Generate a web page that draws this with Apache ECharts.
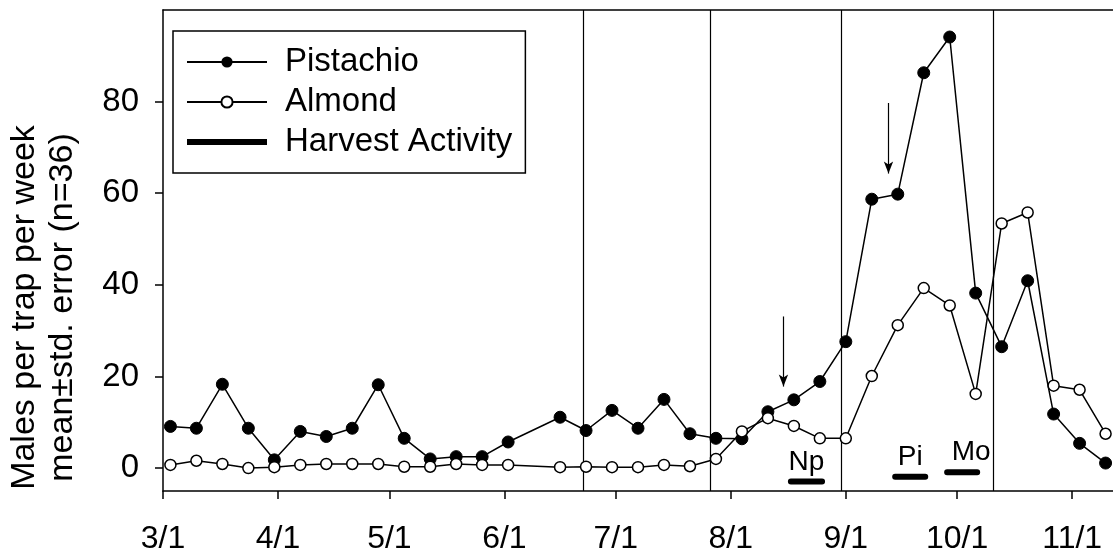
<!DOCTYPE html>
<html>
<head>
<meta charset="utf-8">
<script src="https://cdn.jsdelivr.net/npm/echarts@6/dist/echarts.min.js"></script>
<style>
  html, body { margin: 0; padding: 0; background: #fff; }
  #chart { width: 1113px; height: 550px; }
</style>
</head>
<body>
<div id="chart"></div>
<script>
// x values are days counted from 3/1
const days = [2, 9, 16, 23, 30, 37, 44, 51, 58, 65, 72, 79, 86, 93,
  107, 114, 121, 128, 135, 142, 149, 156, 163, 170, 177, 184, 191, 198, 205, 212, 219, 226, 233, 240, 247, 254];
const pistachio = [9.1, 8.7, 18.3, 8.7, 1.8, 8.0, 6.9, 8.7, 18.2, 6.5, 2.0, 2.5, 2.5, 5.7,
  11.1, 8.2, 12.6, 8.7, 15.0, 7.5, 6.5, 6.4, 12.3, 14.9, 18.9, 27.6, 58.7, 59.8, 86.3, 94.1, 38.2, 26.5, 40.9, 11.8, 5.4, 1.1];
const almond = [0.7, 1.6, 0.9, 0.0, 0.2, 0.7, 0.9, 0.9, 0.9, 0.3, 0.3, 0.9, 0.7, 0.7,
  0.2, 0.3, 0.2, 0.2, 0.7, 0.4, 2.0, 8.0, 10.9, 9.2, 6.5, 6.5, 20.1, 31.2, 39.3, 35.5, 16.2, 53.4, 55.8, 18.0, 17.1, 7.5];

const monthDays = [0, 31, 61, 92, 122, 153, 184, 214, 245];
const monthLabels = ['3/1', '4/1', '5/1', '6/1', '7/1', '8/1', '9/1', '10/1', '11/1'];
const yTicks = [0, 20, 40, 60, 80];

const boundaryDays = [113.3, 147.6, 182.7, 223.8];

const harvestNames = ['Np', 'Pi', 'Mo'];
const harvestStart = [169.2, 197.3, 211.3];
const harvestEnd = [177.6, 205.4, 219.4];
const harvestLevel = [-2.9, -1.9, -0.9];

const arrowDays = [167.2, 195.5];
const arrowTop = [33.1, 79.7];
const arrowBottom = [17.8, 64.3];

const font = "'Liberation Sans', Arial, sans-serif";

const chart = echarts.init(document.getElementById('chart'));

const toPairs = (vals) => days.map((d, i) => [d, vals[i]]);

// thick bar icon for the legend, padded top/bottom so it stays thin
const barIcon = 'path://M0,0L0.01,0L0.01,0.01Z M0,4L80,4L80,10L0,10Z M0,14L0.01,14L0.01,13.99Z';

const harvestSeries = harvestNames.map((nm, i) => ({
  name: 'Harvest Activity',
  type: 'line',
  symbol: 'none',
  z: 4,
  lineStyle: { color: '#000', width: 6, cap: 'round' },
  itemStyle: { color: '#000' },
  data: [
    [harvestStart[i], harvestLevel[i]],
    {
      value: [(harvestStart[i] + harvestEnd[i]) / 2, harvestLevel[i]],
      symbol: 'circle', symbolSize: 1,
      label: {
        show: true, position: 'top', distance: 5, formatter: nm,
        fontFamily: font, fontSize: 28, color: '#000',
        offset: nm === 'Mo' ? [9, 0] : [0, 0]
      }
    },
    [harvestEnd[i], harvestLevel[i]]
  ]
}));

const option = {
  animation: false,
  grid: { left: 163, right: 0, top: 10, bottom: 59, outerBoundsMode: 'none' },
  legend: {
    orient: 'vertical',
    left: 173, top: 31,
    padding: [14, 13, 14, 13],
    borderColor: '#000', borderWidth: 1.5,
    itemGap: 6, itemWidth: 80, itemHeight: 14,
    textStyle: { fontFamily: font, fontSize: 33, lineHeight: 34, color: '#000', padding: [0, 0, 0, 13] },
    data: ['Pistachio', 'Almond', { name: 'Harvest Activity', icon: barIcon, itemStyle: { color: '#000' } }]
  },
  xAxis: [{
    type: 'value', min: 0, max: 256,
    axisLine: { onZero: false, lineStyle: { color: '#000', width: 1.5 } },
    splitLine: { show: false },
    axisTick: { length: 8, customValues: monthDays, lineStyle: { color: '#000', width: 1.5 } },
    axisLabel: {
      customValues: monthDays, margin: 32,
      fontFamily: font, fontSize: 32, color: '#000',
      formatter: (v) => monthLabels[monthDays.indexOf(v)]
    }
  }, {
    type: 'value', min: 0, max: 256, position: 'top',
    axisLine: { show: true, onZero: false, lineStyle: { color: '#000', width: 1.5 } },
    axisTick: { show: false }, axisLabel: { show: false }, splitLine: { show: false }
  }],
  yAxis: {
    type: 'value', min: -5, max: 100,
    name: 'Males per trap per week\nmean±std. error (n=36)',
    nameLocation: 'middle', nameRotate: 90, nameGap: 81,
    nameTextStyle: { fontFamily: font, fontSize: 34, lineHeight: 38, color: '#000', padding: [0, 114, 0, 0] },
    axisLine: { onZero: false, lineStyle: { color: '#000', width: 1.5 } },
    splitLine: { show: false },
    axisTick: { length: 8, customValues: yTicks, lineStyle: { color: '#000', width: 1.5 } },
    axisLabel: {
      customValues: yTicks, margin: 24,
      fontFamily: font, fontSize: 33, color: '#000'
    }
  },
  series: [{
    name: 'Pistachio',
    type: 'line',
    symbol: 'circle', symbolSize: 12,
    z: 3,
    lineStyle: { color: '#000', width: 1.5 },
    itemStyle: { color: '#000', borderColor: '#000' },
    data: toPairs(pistachio),
    markLine: {
      silent: true,
      symbol: ['none', 'none'],
      label: { show: false },
      lineStyle: { color: '#000', width: 1.2, type: 'solid' },
      data: boundaryDays.map((d) => ({ xAxis: d }))
    }
  }, {
    name: 'Almond',
    type: 'line',
    symbol: 'circle', symbolSize: 11,
    z: 5,
    lineStyle: { color: '#000', width: 1.5 },
    itemStyle: { color: '#fff', borderColor: '#000', borderWidth: 1.5 },
    data: toPairs(almond),
    markLine: {
      silent: true,
      symbol: ['none', 'arrow'],
      symbolSize: [7, 12],
      label: { show: false },
      lineStyle: { color: '#000', width: 1.2, type: 'solid' },
      data: arrowDays.map((d, i) => [
        { coord: [d, arrowTop[i]] },
        { coord: [d, arrowBottom[i]] }
      ])
    }
  }].concat(harvestSeries)
};

chart.setOption(option);
</script>
</body>
</html>
